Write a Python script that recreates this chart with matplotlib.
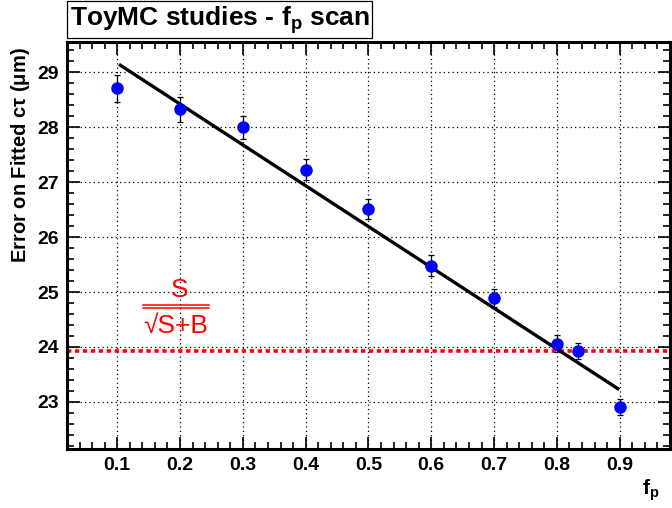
import matplotlib
matplotlib.use('Agg')
import matplotlib.pyplot as plt
from matplotlib.ticker import MultipleLocator
from matplotlib.lines import Line2D

plt.rcParams['font.family'] = ['Liberation Sans', 'DejaVu Sans']
plt.rcParams['mathtext.fontset'] = 'custom'
plt.rcParams['mathtext.rm'] = 'Liberation Sans'
plt.rcParams['mathtext.it'] = 'Liberation Sans'
plt.rcParams['mathtext.bf'] = 'Liberation Sans:bold'

# toy MC results
fp = [0.1, 0.2, 0.3, 0.4, 0.5, 0.6, 0.7, 0.8, 0.833, 0.9]
err_ctau = [28.71, 28.33, 28.00, 27.23, 26.51, 25.48, 24.89, 24.06, 23.93, 22.91]
err_err = [0.24, 0.23, 0.21, 0.19, 0.18, 0.19, 0.16, 0.15, 0.15, 0.15]

# linear fit drawn in the original
fit_x = [0.105, 0.897]
fit_y = [29.13, 23.24]

# S/sqrt(S+B) reference value
ssb = 23.92

fig = plt.figure(figsize=(6.72, 5.08), dpi=100)
ax = fig.add_axes([0.0997, 0.116, 0.8973, 0.802])

ax.grid(True, color='black', linestyle=(0, (1, 2.5)), linewidth=0.9)
ax.set_axisbelow(True)

ax.axhline(ssb, color='#ff0000', linestyle=(0, (1.2, 1.0)), linewidth=2.6, zorder=2)
ax.plot(fit_x, fit_y, color='black', linewidth=2.4, zorder=3)
ax.errorbar(fp, err_ctau, yerr=err_err, fmt='o', color='blue', markersize=8,
            ecolor='black', elinewidth=0.9, capsize=2, capthick=0.9, zorder=4)

# S / sqrt(S+B) label, ROOT-style
fig.text(180 / 672, 1 - 290 / 508, 'S', color='#ff0000', fontsize=19,
         ha='center', va='center')
fig.text(176 / 672, 1 - 326 / 508, '\u221aS+B', color='#ff0000', fontsize=19,
         ha='center', va='center')
for yy in (305, 308):
    fig.add_artist(Line2D([143 / 672, 209 / 672], [1 - yy / 508, 1 - yy / 508],
                          color='#ff0000', linewidth=1.1))

ax.set_xlim(0.02, 0.98)
ax.set_ylim(22.14, 29.56)
ax.xaxis.set_major_locator(MultipleLocator(0.1))
ax.xaxis.set_minor_locator(MultipleLocator(0.02))
ax.yaxis.set_major_locator(MultipleLocator(1))
ax.yaxis.set_minor_locator(MultipleLocator(0.2))
ax.xaxis.set_major_formatter(matplotlib.ticker.FormatStrFormatter('%.1f'))
ax.tick_params(which='both', direction='in', top=True, right=True, width=1.2)
ax.tick_params(which='major', length=9, labelsize=14, pad=6)
ax.tick_params(which='minor', length=5)
for lab in ax.get_xticklabels() + ax.get_yticklabels():
    lab.set_fontweight('bold')
for s in ax.spines.values():
    s.set_linewidth(2.2)

fig.text(0.031, 0.695, r'Error on Fitted c$\mathbf{\tau}$ ($\mathbf{\mu}$m)', rotation=90,
         fontsize=14.5, fontweight='bold', ha='center', va='center')
fig.text(0.969, 0.035, r'f$_\mathbf{p}$', fontsize=15, fontweight='bold',
         ha='center', va='center')

fig.text(0.104, 0.961, r'ToyMC studies - f$_\mathbf{p}$ scan', fontsize=19,
         fontweight='bold', ha='left', va='center',
         bbox=dict(boxstyle='square,pad=0.1', facecolor='white', edgecolor='black', linewidth=0.9))

fig.savefig('out.png', dpi=100)
